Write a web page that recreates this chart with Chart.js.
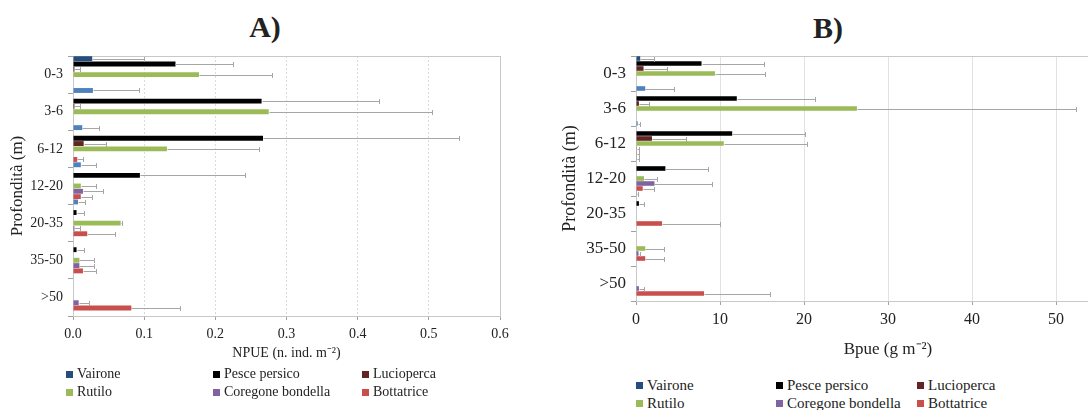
<!DOCTYPE html>
<html>
<head>
<meta charset="utf-8">
<script src="https://cdn.jsdelivr.net/npm/chart.js@4.4.1/dist/chart.umd.min.js"></script>
<style>
  html, body { margin:0; padding:0; background:#fff; }
  body { width:1088px; height:410px; overflow:hidden; position:relative; font-family:'Liberation Serif', 'Times New Roman', serif; color:#222; }
  .panel-title { position:absolute; font-weight:bold; font-size:30px; line-height:30px; transform:translate(-50%,-50%); }
  canvas { position:absolute; }
  .legend { position:absolute; display:grid; row-gap:0; font-family:'Liberation Serif', serif; }
  .legend div { display:flex; align-items:center; white-space:nowrap; }
  .legend span.sw { display:inline-block; width:7px; height:7px; margin-right:4px; }
</style>
</head>
<body>
<div class="panel-title" style="left:265px;top:27px">A)</div>
<div class="panel-title" style="left:828px;top:28px">B)</div>
<canvas id="chartA" width="540" height="366" style="left:0;top:0"></canvas>
<canvas id="chartB" width="620" height="364" style="left:540px;top:0"></canvas>
<div class="legend" id="legendA" style="left:66px;top:365px;grid-template-columns:147px 149px 150px;grid-auto-rows:18px;font-size:14px"></div>
<div class="legend" id="legendB" style="left:636px;top:376px;grid-template-columns:140px 141px 150px;grid-auto-rows:18px;font-size:15px"></div>
<script>
// Profondità (classi di profondità, m)
const categories = ['0-3', '3-6', '6-12', '12-20', '20-35', '35-50', '>50'];

const speciesLabels = ['Vairone', 'Pesce persico', 'Lucioperca', 'Rutilo', 'Coregone bondella', 'Bottatrice'];
const speciesColors = ['#254E7E', '#000000', '#632523', '#9BBB59', '#8064A2', '#C94F4C'];
// serie senza voce in legenda (barra azzurra in fondo ad ogni gruppo)
const extraColor = '#4F81BD';

// --- A) NPUE (n. ind. m-2): medie ed errori (solo lato +) ---
const npueVairone     = [0.027, 0, 0, 0, 0, 0, 0];
const npueVaironeErr  = [0.073, 0, 0, 0, 0, 0, 0];
const npuePersico     = [0.144, 0.265, 0.267, 0.094, 0.005, 0.005, 0];
const npuePersicoErr  = [0.081, 0.165, 0.275, 0.148, 0.010, 0.010, 0];
const npueLucio       = [0.002, 0.002, 0.015, 0, 0, 0, 0];
const npueLucioErr    = [0.008, 0.008, 0.032, 0, 0, 0, 0];
const npueRutilo      = [0.177, 0.275, 0.132, 0.011, 0.067, 0.009, 0];
const npueRutiloErr   = [0.102, 0.230, 0.130, 0.022, 0.002, 0.021, 0];
const npueCoregone    = [0, 0, 0, 0.014, 0.002, 0.009, 0.008];
const npueCoregoneErr = [0, 0, 0, 0.028, 0.008, 0.021, 0.014];
const npueBotta       = [0, 0, 0.006, 0.011, 0.020, 0.014, 0.082];
const npueBottaErr    = [0, 0, 0.008, 0.016, 0.039, 0.019, 0.068];
const npueExtra       = [0.028, 0.013, 0.011, 0.007, 0, 0, 0];
const npueExtraErr    = [0.065, 0.023, 0.022, 0.010, 0, 0, 0];
const npueTicks = [0, 0.1, 0.2, 0.3, 0.4, 0.5, 0.6];

// --- B) Bpue (g m-2) ---
const bpueVairone     = [0.5, 0, 0, 0, 0, 0, 0];
const bpueVaironeErr  = [1.6, 0, 0, 0, 0, 0, 0];
const bpuePersico     = [7.8, 12.0, 11.45, 3.5, 0.35, 0, 0];
const bpuePersicoErr  = [7.4, 9.3, 8.65, 5.1, 0.55, 0, 0];
const bpueLucio       = [0.9, 0.35, 1.9, 0, 0, 0, 0];
const bpueLucioErr    = [2.8, 1.15, 4.1, 0, 0, 0, 0];
const bpueRutilo      = [9.4, 26.3, 10.45, 0.95, 0, 1.1, 0];
const bpueRutiloErr   = [6.0, 26.1, 9.85, 1.55, 0, 2.2, 0];
const bpueCoregone    = [0, 0, 0.1, 2.2, 0, 0.3, 0.35];
const bpueCoregoneErr = [0, 0, 0.3, 6.8, 0, 0.2, 0.65];
const bpueBotta       = [0, 0, 0.1, 0.8, 3.1, 1.1, 8.1];
const bpueBottaErr    = [0, 0, 0.2, 1.3, 6.9, 2.2, 7.9];
const bpueExtra       = [1.1, 0.2, 0.1, 0.1, 0, 0, 0];
const bpueExtraErr    = [3.4, 0.3, 0.2, 0.1, 0, 0, 0];
const bpueTicks = [0, 10, 20, 30, 40, 50, 60];

const SERIF = "'Liberation Serif', 'Times New Roman', serif";

// barre d'errore (solo positive) disegnate sulla scala x
const errorBars = {
  id: 'errorBars',
  afterDatasetsDraw(chart, args, opts){
    const ctx = chart.ctx;
    const xs = chart.scales.x;
    ctx.save();
    ctx.strokeStyle = opts.color;
    ctx.lineWidth = 1;
    chart.data.datasets.forEach((ds, i) => {
      const meta = chart.getDatasetMeta(i);
      meta.data.forEach((bar, j) => {
        const e = ds.errors[j];
        if(!e) return;
        const x0 = Math.round(xs.getPixelForValue(ds.data[j])) + 0.5;
        const x1 = Math.round(xs.getPixelForValue(ds.data[j] + e)) + 0.5;
        const y = Math.round(bar.y) + 0.5;
        ctx.beginPath();
        ctx.moveTo(x0, y); ctx.lineTo(x1, y);
        ctx.moveTo(x1, y - opts.cap); ctx.lineTo(x1, y + opts.cap);
        ctx.stroke();
      });
    });
    ctx.restore();
  }
};

// riquadro dell'area del grafico
const plotBox = {
  id: 'plotBox',
  beforeDatasetsDraw(chart, args, opts){
    const {ctx, chartArea:a} = chart;
    ctx.save();
    ctx.strokeStyle = opts.color;
    ctx.lineWidth = 1;
    ctx.strokeRect(Math.round(a.left) + 0.5, Math.round(a.top) + 0.5, Math.round(a.right - a.left), Math.round(a.bottom - a.top));
    ctx.restore();
  }
};

function makeDatasets(means, errs){
  const cols = speciesColors.concat([extraColor]);
  const labs = speciesLabels.concat(['']);
  return means.map((m, i) => ({
    label: labs[i],
    data: m,
    errors: errs[i],
    backgroundColor: cols[i],
    borderWidth: 0,
    categoryPercentage: 1.0,
    barPercentage: 0.92
  }));
}

function buildChart(id, cfg){
  return new Chart(document.getElementById(id), {
    type: 'bar',
    data: { labels: categories, datasets: makeDatasets(cfg.means, cfg.errs) },
    plugins: [errorBars, plotBox],
    options: {
      indexAxis: 'y',
      responsive: false,
      animation: false,
      layout: { padding: cfg.padding },
      plugins: {
        legend: { display: false },
        tooltip: { enabled: false },
        errorBars: { color: '#A6A6A6', cap: 2.5 },
        plotBox: { color: '#C8C8C8' }
      },
      scales: {
        x: {
          min: 0, max: cfg.ticks[cfg.ticks.length - 1],
          afterBuildTicks: s => { s.ticks = cfg.ticks.map(v => ({ value: v })); },
          afterFit: s => { s.height = cfg.xHeight; },
          grid: { color: cfg.gridColor, tickLength: 4, tickColor: '#A0A0A0' },
          border: { color: '#A0A0A0', dash: cfg.gridDash },
          ticks: { color: '#222', padding: cfg.xTickPad, font: { family: SERIF, size: cfg.xTickSize }, callback: cfg.fmt },
          title: { display: true, text: cfg.xTitle, color: '#222', padding: { top: 2, bottom: 4 }, font: { family: SERIF, size: cfg.xTitleSize } }
        },
        y: {
          afterFit: s => { s.width = cfg.yWidth; },
          grid: { offset: true, drawOnChartArea: false, tickLength: 5, color: '#A0A0A0' },
          border: { color: '#A0A0A0' },
          ticks: { color: '#222', padding: 5, font: { family: SERIF, size: cfg.yTickSize } },
          title: { display: true, text: 'Profondità (m)', color: '#222', padding: { top: cfg.yTitlePad, bottom: 0 }, font: { family: SERIF, size: cfg.yTitleSize } }
        }
      }
    }
  });
}

buildChart('chartA', {
  means: [npueVairone, npuePersico, npueLucio, npueRutilo, npueCoregone, npueBotta, npueExtra],
  errs: [npueVaironeErr, npuePersicoErr, npueLucioErr, npueRutiloErr, npueCoregoneErr, npueBottaErr, npueExtraErr],
  ticks: npueTicks,
  fmt: v => Number(v).toFixed(1),
  xTitle: 'NPUE (n. ind. m⁻²)',
  padding: { left: 0, top: 56, right: 40, bottom: 0 },
  xHeight: 50, yWidth: 73,
  gridColor: '#DADADA', gridDash: [2, 2],
  xTickSize: 14, xTickPad: 6, xTitleSize: 14, yTickSize: 14, yTitleSize: 17, yTitlePad: 7
});

buildChart('chartB', {
  means: [bpueVairone, bpuePersico, bpueLucio, bpueRutilo, bpueCoregone, bpueBotta, bpueExtra],
  errs: [bpueVaironeErr, bpuePersicoErr, bpueLucioErr, bpueRutiloErr, bpueCoregoneErr, bpueBottaErr, bpueExtraErr],
  ticks: bpueTicks,
  fmt: v => String(v),
  xTitle: 'Bpue (g m⁻²)',
  padding: { left: 0, top: 56, right: 20, bottom: 0 },
  xHeight: 63, yWidth: 96,
  gridColor: '#E2E2E2', gridDash: [],
  xTickSize: 16, xTickPad: 5, xTitleSize: 17, yTickSize: 17, yTitleSize: 18, yTitlePad: 19
});

function buildLegend(id){
  const el = document.getElementById(id);
  el.innerHTML = speciesLabels.map((l, i) =>
    `<div><span class="sw" style="background:${speciesColors[i]}"></span>${l}</div>`).join('');
}
buildLegend('legendA');
buildLegend('legendB');
</script>
</body>
</html>
